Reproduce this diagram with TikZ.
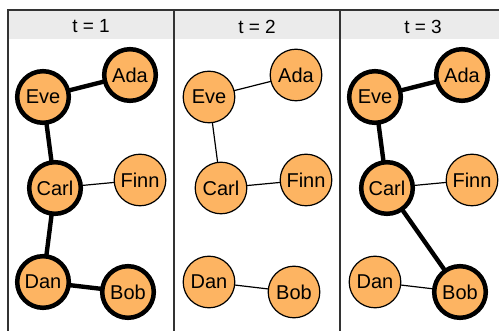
\documentclass[tikz,border=0pt]{standalone}
\usepackage{fontspec}
\setmainfont{Liberation Sans}
\usetikzlibrary{backgrounds}
\definecolor{nodefill}{HTML}{FDB462}
\definecolor{stripfill}{HTML}{EBEBEB}
\definecolor{frame}{HTML}{333333}
\tikzset{
  person/.style={circle, draw=black, fill=nodefill, minimum size=51.6pt, inner sep=0pt,
    line width=1.2pt, font=\fontsize{20}{22}\selectfont},
  hub/.style={person, line width=4.5pt},
  tie/.style={draw=black, line width=1.2pt},
  bond/.style={draw=black, line width=4.4pt},
  striplabel/.style={font=\fontsize{19}{21}\selectfont, inner sep=0pt},
  framestyle/.style={draw=frame, line width=1.6pt}
}
\begin{document}
\begin{tikzpicture}[x=1pt,y=-1pt]
\useasboundingbox (0,0) rectangle (499,331);
\clip (0,0) rectangle (499,331);
% strips
\fill[stripfill] (8,10) rectangle (510,39);
\node[striplabel] (s1) at (91,26.5) {t = 1};
\node[striplabel] (s2) at (257,26.5) {t = 2};
\node[striplabel] (s3) at (423,26.5) {t = 3};
% frames
\draw[framestyle] (8,340) -- (8,10) -- (510,10);
\draw[framestyle] (174,10) -- (174,340);
\draw[framestyle] (340,10) -- (340,340);
% panel 1
\begin{scope}
\node[hub] (eve1) at (43,97) {Eve};
\node[hub] (ada1) at (130,75) {Ada};
\node[hub] (carl1) at (55,188) {Carl};
\node[person] (finn1) at (140,180) {Finn};
\node[hub] (dan1) at (43,282) {Dan};
\node[hub] (bob1) at (128,292) {Bob};
\begin{pgfonlayer}{background}
\draw[bond] (eve1.center) -- (ada1.center);
\draw[bond] (eve1.center) -- (carl1.center);
\draw[bond] (carl1.center) -- (dan1.center);
\draw[bond] (dan1.center) -- (bob1.center);
\draw[tie] (carl1.center) -- (finn1.center);
\end{pgfonlayer}
\end{scope}
% panel 2
\begin{scope}[xshift=166pt]
\node[person] (eve2) at (43,97) {Eve};
\node[person] (ada2) at (130,75) {Ada};
\node[person] (carl2) at (55,188) {Carl};
\node[person] (finn2) at (140,180) {Finn};
\node[person] (dan2) at (43,282) {Dan};
\node[person] (bob2) at (128,292) {Bob};
\begin{pgfonlayer}{background}
\draw[tie] (eve2.center) -- (ada2.center);
\draw[tie] (eve2.center) -- (carl2.center);
\draw[tie] (carl2.center) -- (finn2.center);
\draw[tie] (dan2.center) -- (bob2.center);
\end{pgfonlayer}
\end{scope}
% panel 3
\begin{scope}[xshift=332pt]
\node[hub] (eve3) at (43,97) {Eve};
\node[hub] (ada3) at (130,75) {Ada};
\node[hub] (carl3) at (55,188) {Carl};
\node[person] (finn3) at (140,180) {Finn};
\node[person] (dan3) at (43,282) {Dan};
\node[hub] (bob3) at (128,292) {Bob};
\begin{pgfonlayer}{background}
\draw[bond] (eve3.center) -- (ada3.center);
\draw[bond] (eve3.center) -- (carl3.center);
\draw[bond] (carl3.center) -- (bob3.center);
\draw[tie] (carl3.center) -- (finn3.center);
\draw[tie] (dan3.center) -- (bob3.center);
\end{pgfonlayer}
\end{scope}
\end{tikzpicture}
\end{document}
